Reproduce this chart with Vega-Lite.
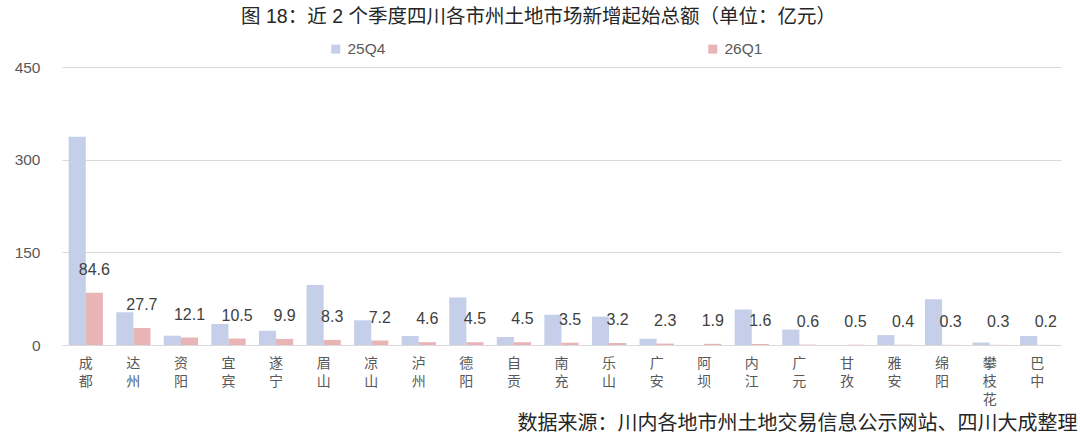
{
  "$schema": "https://vega.github.io/schema/vega-lite/v6.json",
  "autosize": {"type": "none"},
  "width": 999,
  "height": 278,
  "padding": {"left": 62, "top": 67, "right": 19, "bottom": 92},
  "background": "#ffffff",
  "config": {
    "font": "Liberation Sans, Noto Sans CJK SC",
    "view": {"stroke": null}
  },
  "title": {
    "text": "图 18：近 2 个季度四川各市州土地市场新增起始总额（单位：亿元）",
    "font": "Liberation Sans, Noto Sans CJK SC",
    "fontSize": 19.5,
    "fontWeight": "normal",
    "color": "#262626",
    "anchor": "middle",
    "frame": "group",
    "dx": -23,
    "offset": 14
  },
  "data": {
    "values": [
      {"city": "成都", "series": "25Q4", "value": 337},
      {"city": "成都", "series": "26Q1", "value": 84.6},
      {"city": "达州", "series": "25Q4", "value": 53},
      {"city": "达州", "series": "26Q1", "value": 27.7},
      {"city": "资阳", "series": "25Q4", "value": 15},
      {"city": "资阳", "series": "26Q1", "value": 12.1},
      {"city": "宜宾", "series": "25Q4", "value": 34},
      {"city": "宜宾", "series": "26Q1", "value": 10.5},
      {"city": "遂宁", "series": "25Q4", "value": 23},
      {"city": "遂宁", "series": "26Q1", "value": 9.9},
      {"city": "眉山", "series": "25Q4", "value": 97},
      {"city": "眉山", "series": "26Q1", "value": 8.3},
      {"city": "凉山", "series": "25Q4", "value": 40},
      {"city": "凉山", "series": "26Q1", "value": 7.2},
      {"city": "泸州", "series": "25Q4", "value": 14.5},
      {"city": "泸州", "series": "26Q1", "value": 4.6},
      {"city": "德阳", "series": "25Q4", "value": 77},
      {"city": "德阳", "series": "26Q1", "value": 4.5},
      {"city": "自贡", "series": "25Q4", "value": 13},
      {"city": "自贡", "series": "26Q1", "value": 4.5},
      {"city": "南充", "series": "25Q4", "value": 49},
      {"city": "南充", "series": "26Q1", "value": 3.5},
      {"city": "乐山", "series": "25Q4", "value": 46},
      {"city": "乐山", "series": "26Q1", "value": 3.2},
      {"city": "广安", "series": "25Q4", "value": 10},
      {"city": "广安", "series": "26Q1", "value": 2.3},
      {"city": "阿坝", "series": "25Q4", "value": 0},
      {"city": "阿坝", "series": "26Q1", "value": 1.9},
      {"city": "内江", "series": "25Q4", "value": 57.5},
      {"city": "内江", "series": "26Q1", "value": 1.6},
      {"city": "广元", "series": "25Q4", "value": 25},
      {"city": "广元", "series": "26Q1", "value": 0.6},
      {"city": "甘孜", "series": "25Q4", "value": 0},
      {"city": "甘孜", "series": "26Q1", "value": 0.5},
      {"city": "雅安", "series": "25Q4", "value": 16},
      {"city": "雅安", "series": "26Q1", "value": 0.4},
      {"city": "绵阳", "series": "25Q4", "value": 74},
      {"city": "绵阳", "series": "26Q1", "value": 0.3},
      {"city": "攀枝花", "series": "25Q4", "value": 4},
      {"city": "攀枝花", "series": "26Q1", "value": 0.3},
      {"city": "巴中", "series": "25Q4", "value": 14.5},
      {"city": "巴中", "series": "26Q1", "value": 0.2}
    ]
  },
  "encoding": {
    "x": {
      "field": "city",
      "type": "nominal",
      "sort": null,
      "scale": {"paddingInner": 0.28, "paddingOuter": 0.14},
      "axis": {
        "title": "数据来源：川内各地市州土地交易信息公示网站、四川大成整理",
        "titleFont": "Noto Sans CJK SC",
        "titleFontSize": 20,
        "titleFontWeight": "normal",
        "titleColor": "#262626",
        "titleAnchor": null,
        "titleAlign": "right",
        "titleBaseline": "middle",
        "titleX": 1015,
        "titleY": 78.5,
        "labelAngle": 0,
        "labelExpr": "split(datum.label, '')",
        "labelFont": "Noto Sans CJK SC",
        "labelFontSize": 14,
        "labelLineHeight": 18,
        "labelColor": "#595959",
        "labelBaseline": "top",
        "labelPadding": 11,
        "ticks": false,
        "domainColor": "#d9d9d9",
        "domainWidth": 1
      }
    },
    "xOffset": {"field": "series", "type": "nominal", "sort": ["25Q4", "26Q1"]},
    "y": {
      "field": "value",
      "type": "quantitative",
      "scale": {"domain": [0, 450], "nice": false},
      "axis": {
        "title": null,
        "values": [0, 150, 300, 450],
        "labelFontSize": 15.5,
        "labelColor": "#595959",
        "labelPadding": 22,
        "ticks": false,
        "domain": false,
        "gridColor": "#d9d9d9",
        "gridWidth": 1
      }
    }
  },
  "layer": [
    {
      "mark": {"type": "bar"},
      "encoding": {
        "color": {
          "field": "series",
          "type": "nominal",
          "sort": ["25Q4", "26Q1"],
          "scale": {"domain": ["25Q4", "26Q1"], "range": ["#c5cfea", "#e8b4b6"]},
          "legend": {
            "title": null,
            "orient": "none",
            "direction": "horizontal",
            "legendX": 266,
            "legendY": -26,
            "padding": 0,
            "symbolType": "square",
            "symbolSize": 81,
            "symbolStrokeWidth": 0,
            "labelFontSize": 15.5,
            "labelColor": "#595959",
            "labelOffset": 4,
            "columnPadding": 319
          }
        }
      }
    },
    {
      "transform": [{"filter": "datum.series === '26Q1'"}],
      "mark": {"type": "text", "baseline": "middle", "align": "center", "dy": -23, "fontSize": 16, "color": "#404040"},
      "encoding": {
        "text": {"field": "value", "type": "quantitative", "format": ".1f"}
      }
    }
  ]
}
